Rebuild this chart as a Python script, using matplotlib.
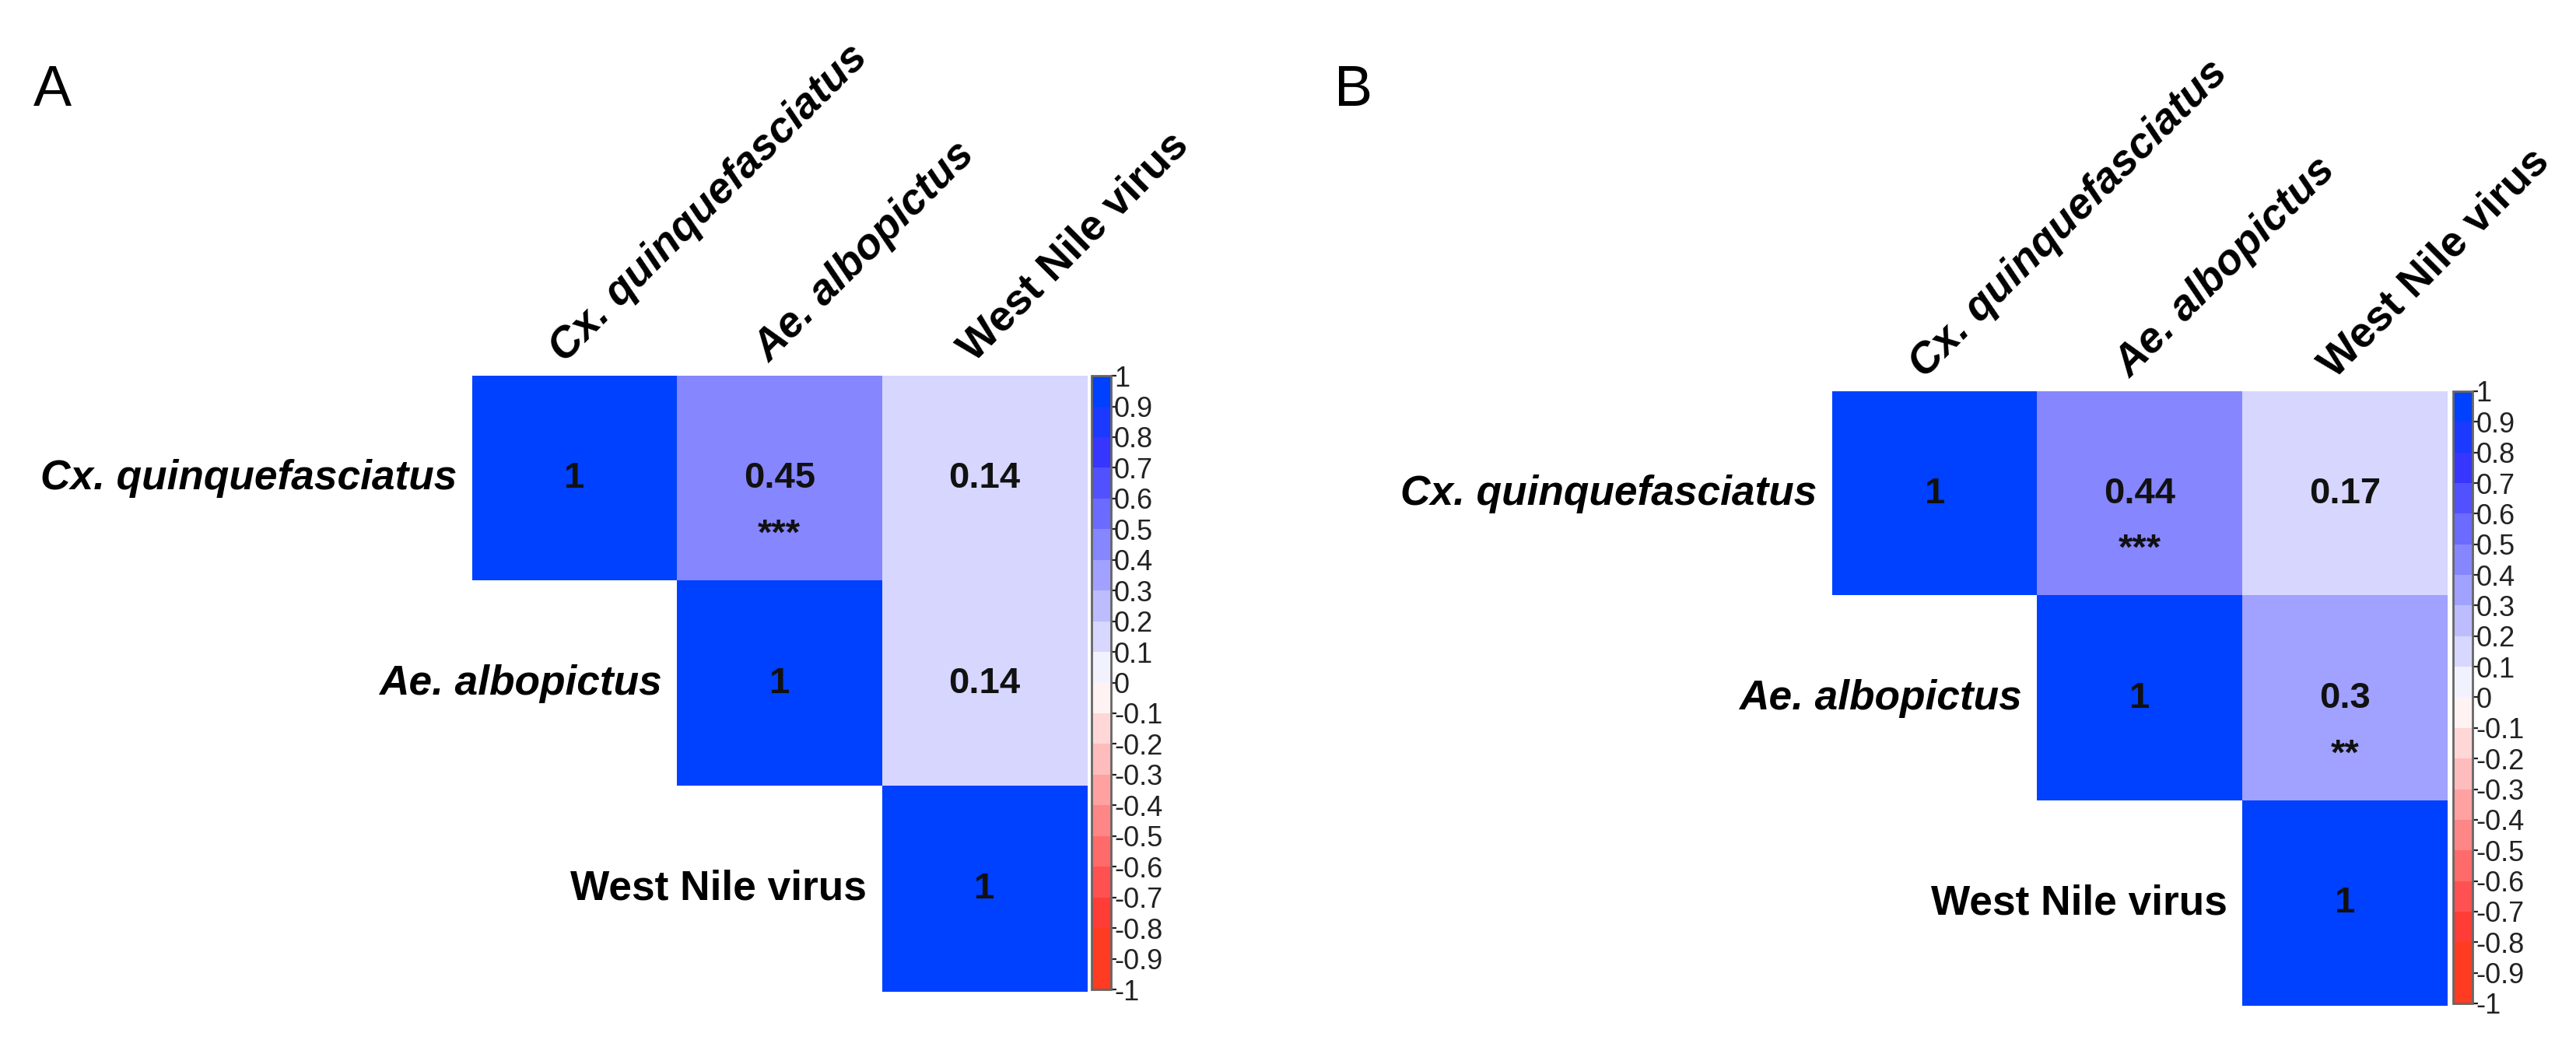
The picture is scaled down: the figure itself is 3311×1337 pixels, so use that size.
import numpy as np
import matplotlib
matplotlib.use("Agg")
import matplotlib.pyplot as plt
from matplotlib.colors import ListedColormap, BoundaryNorm
from matplotlib.cm import ScalarMappable

plt.rcParams['font.family'] = ['Liberation Sans', 'DejaVu Sans']

labels = ["Cx. quinquefasciatus", "Ae. albopictus", "West Nile virus"]
label_style = ["italic", "italic", "normal"]

corr_a = [[1, 0.45, 0.14],
          [0.45, 1, 0.14],
          [0.14, 0.14, 1]]
stars_a = [["", "***", ""],
           ["***", "", ""],
           ["", "", ""]]

corr_b = [[1, 0.44, 0.17],
          [0.44, 1, 0.3],
          [0.17, 0.3, 1]]
stars_b = [["", "***", ""],
           ["***", "", "**"],
           ["", "**", ""]]

panels = ["A", "B"]

# 20-step red-white-blue palette (like corrplot)
n_col = 20
cols = []
for i in range(n_col):
    v = -1 + 2 * i / (n_col - 1)
    if v >= 0:
        t = v
        r = 255 * (1 - t)
        g = max(255 * (1 - t), 64 * t)
        b = 255
    else:
        t = -v
        r = 255
        g = max(255 * (1 - t), 60)
        b = max(255 * (1 - t), 34)
    cols.append((r / 255, g / 255, b / 255))
cmap = ListedColormap(cols)
bounds = np.linspace(-1, 1, n_col + 1)
norm = BoundaryNorm(bounds, n_col)


def draw_panel(ax, cax, corr, stars):
    corr = np.array(corr, dtype=float)
    n = len(labels)
    m = corr.copy()
    for i in range(n):
        for j in range(n):
            if j < i:
                m[i, j] = np.nan
    # bin the values so 0.3 lands in the 0.3-0.4 bin
    binned = np.floor((m + 1) * 10 + 1e-9) / 10 - 1 + 0.05
    binned = np.clip(binned, -0.95, 0.95)
    ax.imshow(np.ma.masked_invalid(binned), cmap=cmap, norm=norm,
              extent=(0, n, n, 0), aspect='auto', interpolation='nearest')
    ax.set_xlim(0, n)
    ax.set_ylim(n, 0)
    ax.axis('off')

    for i in range(n):
        for j in range(i, n):
            ax.text(j + 0.5, i + 0.5, "{:g}".format(corr[i, j]), ha='center', va='center',
                    fontsize=17, fontweight='bold', color='#111111')
            if stars[i][j]:
                ax.text(j + 0.5, i + 0.775, stars[i][j], ha='center', va='center',
                        fontsize=17, fontweight='bold', color='#111111')

    for k, lab in enumerate(labels):
        # row labels
        ax.text(k - 0.075, k + 0.5, lab, ha='right', va='center', fontsize=19.2,
                fontweight='bold', style=label_style[k], color='black')
        # column labels
        ax.text(k + 0.45, -0.06, lab, ha='left', va='baseline', rotation=45,
                rotation_mode='anchor', fontsize=19.8, fontweight='bold',
                style=label_style[k], color='black', clip_on=False)

    sm = ScalarMappable(norm=norm, cmap=cmap)
    cb = plt.colorbar(sm, cax=cax, ticks=np.round(bounds, 1))
    cb.ax.set_yticklabels(["{:g}".format(v) for v in np.round(bounds, 1)])
    cb.ax.tick_params(labelsize=13, length=2.5, width=0.8, pad=-1, colors='#222222')
    cb.outline.set_edgecolor('#666666')
    cb.outline.set_linewidth(1.0)


fig = plt.figure(figsize=(16.555, 6.685), dpi=200)

ax_a = fig.add_axes([0.1833, 0.0464, 0.2386, 0.5924])
cax_a = fig.add_axes([0.4237, 0.0486, 0.00755, 0.5901])
draw_panel(ax_a, cax_a, corr_a, stars_a)

ax_b = fig.add_axes([0.7113, 0.0329, 0.2389, 0.5909])
cax_b = fig.add_axes([0.9523, 0.0352, 0.00755, 0.5886])
draw_panel(ax_b, cax_b, corr_b, stars_b)

fig.text(0.013, 0.9387, panels[0], fontsize=26.5, va='top', ha='left')
fig.text(0.518, 0.9387, panels[1], fontsize=26.5, va='top', ha='left')

fig.savefig("out.png", dpi=200, facecolor='white')
